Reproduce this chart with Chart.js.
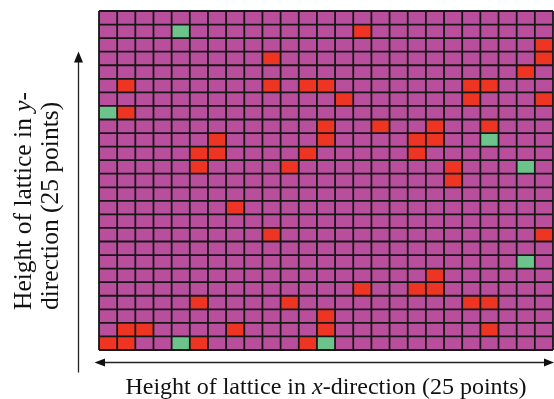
<!DOCTYPE html>
<html><head><meta charset="utf-8">
<script src="https://cdn.jsdelivr.net/npm/chart.js@4/dist/chart.umd.min.js"></script>
<style>html,body{margin:0;padding:0;background:#fff}#wrap{width:554px;height:399px;position:relative}</style>
</head><body><div id="wrap"><canvas id="c" width="554" height="399"></canvas></div>
<script>
// Lattice columns (x-direction) and rows (y-direction, row 0 = top)
const columns = ['1','2','3','4','5','6','7','8','9','10','11','12','13','14','15','16','17','18','19','20','21','22','23','24','25'];
const rowIds = [0,1,2,3,4,5,6,7,8,9,10,11,12,13,14,15,16,17,18,19,20,21,22,23,24];
// Cells in the "red" state: [column, row]
const redCells = [
  [14,1],[24,2],[9,3],[24,3],[23,4],
  [1,5],[9,5],[11,5],[12,5],[20,5],[21,5],
  [13,6],[20,6],[24,6],[1,7],
  [12,8],[15,8],[18,8],[21,8],
  [6,9],[12,9],[17,9],[18,9],
  [5,10],[6,10],[11,10],[17,10],
  [5,11],[10,11],[19,11],[19,12],[7,14],
  [9,16],[24,16],[18,19],
  [14,20],[17,20],[18,20],
  [5,21],[10,21],[20,21],[21,21],[12,22],
  [1,23],[2,23],[7,23],[12,23],[21,23],
  [0,24],[1,24],[5,24],[11,24]
];
// Cells in the "green" state: [column, row]
const greenCells = [[4,1],[0,7],[21,9],[23,11],[23,18],[4,24],[12,24]];
const cellHeight = 1;

const PURPLE = '#b94e9c', RED = '#ee3524', GREEN = '#6cc38c', LINE = '#171717';

function cellColor(c, r) {
  if (greenCells.some(p => p[0] === c && p[1] === r)) return GREEN;
  if (redCells.some(p => p[0] === c && p[1] === r)) return RED;
  return PURPLE;
}

// stacked from bottom: first dataset = bottom row
const datasets = rowIds.slice().reverse().map(r => ({
  label: 'row ' + r,
  data: columns.map(() => cellHeight),
  backgroundColor: columns.map((_, c) => cellColor(c, r)),
  borderWidth: 0,
  inflateAmount: 0.5,
  barPercentage: 1,
  categoryPercentage: 1
}));

function drawSegments(ctx, segs, x, y, align) {
  let total = 0;
  segs.forEach(s => { ctx.font = s.font; total += ctx.measureText(s.t).width; });
  let cx = align === 'center' ? x - total / 2 : x;
  segs.forEach(s => { ctx.font = s.font; ctx.fillText(s.t, cx, y); cx += ctx.measureText(s.t).width; });
}

const decor = {
  id: 'decor',
  afterDatasetsDraw(chart) {
    const ctx = chart.ctx, xs = chart.scales.x, ys = chart.scales.y, a = chart.chartArea;
    ctx.save();
    ctx.strokeStyle = LINE; ctx.lineWidth = 1.8;
    const step = (xs.getPixelForValue(1) - xs.getPixelForValue(0));
    ctx.beginPath();
    for (let i = 0; i <= columns.length; i++) {
      const x = xs.getPixelForValue(0) - step / 2 + i * step;
      ctx.moveTo(x, a.top); ctx.lineTo(x, a.bottom);
    }
    for (let j = 0; j <= rowIds.length; j++) {
      const y = ys.getPixelForValue(j);
      ctx.moveTo(a.left, y); ctx.lineTo(a.right, y);
    }
    ctx.stroke();
    ctx.restore();
  },
  afterDraw(chart) {
    const ctx = chart.ctx;
    ctx.save();
    ctx.strokeStyle = '#222'; ctx.fillStyle = '#111'; ctx.lineWidth = 1.3;
    // vertical arrow
    ctx.beginPath(); ctx.moveTo(78.5, 372.5); ctx.lineTo(78.5, 60); ctx.stroke();
    ctx.beginPath(); ctx.moveTo(78.5, 51.5); ctx.lineTo(74, 62.5); ctx.lineTo(83, 62.5); ctx.closePath(); ctx.fill();
    // horizontal double arrow
    ctx.beginPath(); ctx.moveTo(103, 362.5); ctx.lineTo(546, 362.5); ctx.stroke();
    ctx.beginPath(); ctx.moveTo(94.5, 362.5); ctx.lineTo(105, 358.5); ctx.lineTo(105, 366.5); ctx.closePath(); ctx.fill();
    ctx.beginPath(); ctx.moveTo(554, 362.5); ctx.lineTo(544, 358.5); ctx.lineTo(544, 366.5); ctx.closePath(); ctx.fill();
    // labels
    ctx.fillStyle = '#111'; ctx.textBaseline = 'alphabetic'; ctx.textAlign = 'left';
    const f = 'Liberation Serif', xsz = 24, ysz = 25.5;
    drawSegments(ctx, [
      {t: 'Height of lattice in ', font: xsz + 'px "' + f + '"'},
      {t: 'x', font: 'italic ' + xsz + 'px "' + f + '"'},
      {t: '-direction (25 points)', font: xsz + 'px "' + f + '"'}
    ], 326, 393.5, 'center');
    ctx.save(); ctx.translate(30.5, 310); ctx.rotate(-Math.PI / 2);
    drawSegments(ctx, [
      {t: 'Height of lattice in ', font: ysz + 'px "' + f + '"'},
      {t: 'y', font: 'italic ' + ysz + 'px "' + f + '"'},
      {t: '-', font: ysz + 'px "' + f + '"'}
    ], 0, 0, 'left');
    ctx.restore();
    ctx.save(); ctx.translate(58, 310); ctx.rotate(-Math.PI / 2);
    drawSegments(ctx, [{t: 'direction (25 points)', font: ysz + 'px "' + f + '"'}], 0, 0, 'left');
    ctx.restore();
    ctx.restore();
  }
};

new Chart(document.getElementById('c'), {
  type: 'bar',
  data: { labels: columns, datasets },
  options: {
    responsive: false,
    animation: false,
    layout: { padding: { left: 99, top: 11, right: 1, bottom: 49 } },
    plugins: { legend: { display: false }, tooltip: { enabled: false } },
    scales: {
      x: { stacked: true, display: false },
      y: { stacked: true, display: false, min: 0, max: 25 }
    }
  },
  plugins: [decor]
});
</script></body></html>
